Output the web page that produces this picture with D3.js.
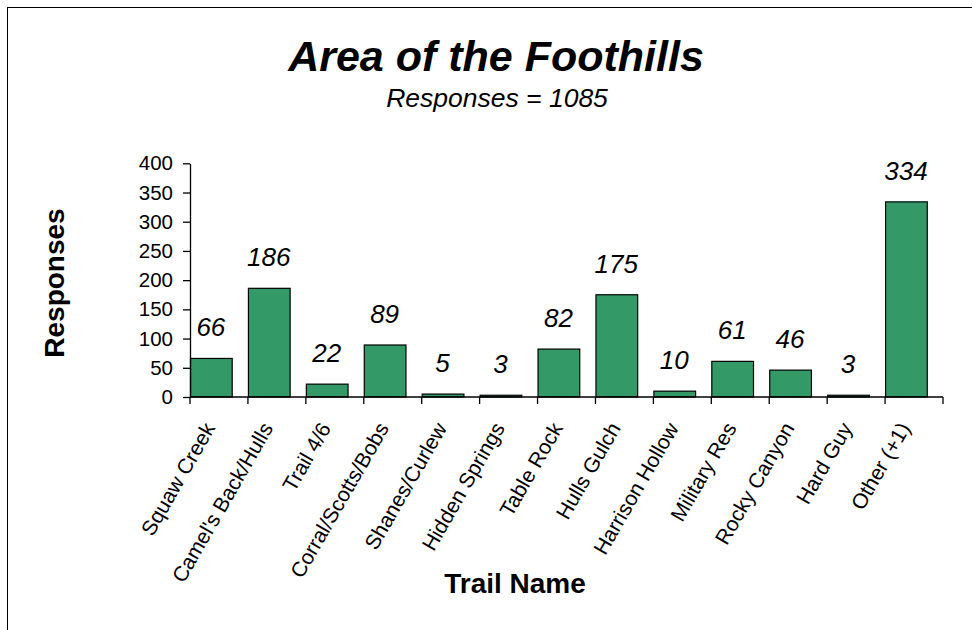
<!DOCTYPE html>
<html>
<head>
<meta charset="utf-8">
<script src="https://cdn.jsdelivr.net/npm/d3@7.9.0/dist/d3.min.js"></script>
<style>
  html, body { margin: 0; padding: 0; background: #fff; }
  svg { display: block; font-family: Arial, "Liberation Sans", sans-serif; }
</style>
</head>
<body>
<svg id="chart" width="972" height="630"></svg>
<script>
// chart data
const trails = ['Squaw Creek', "Camel's Back/Hulls", 'Trail 4/6', 'Corral/Scotts/Bobs',
  'Shanes/Curlew', 'Hidden Springs', 'Table Rock', 'Hulls Gulch', 'Harrison Hollow',
  'Military Res', 'Rocky Canyon', 'Hard Guy', 'Other (+1)'];
const responses = [66, 186, 22, 89, 5, 3, 82, 175, 10, 61, 46, 3, 334];
const yTicks = [0, 50, 100, 150, 200, 250, 300, 350, 400];
const totalResponses = 1085;

const svg = d3.select('#chart');

// outer frame (right/bottom edges fall outside the picture)
svg.append('rect')
  .attr('x', 7.5).attr('y', 7.5)
  .attr('width', 975).attr('height', 640)
  .attr('fill', 'none').attr('stroke', '#000').attr('stroke-width', 1);

const x = d3.scaleBand().domain(trails).range([190, 943]).padding(0);
const y = d3.scaleLinear().domain([0, 400]).range([397, 163.3]);

const rows = trails.map((t, i) => ({ name: t, value: responses[i] }));
const barW = x.bandwidth() * 0.72;

// bars
svg.append('g').selectAll('rect')
  .data(rows)
  .join('rect')
  .attr('x', d => x(d.name) + 0.5)
  .attr('y', d => y(d.value))
  .attr('width', barW)
  .attr('height', d => y(0) - y(d.value))
  .attr('fill', '#339966')
  .attr('stroke', '#000')
  .attr('stroke-width', 1.2);

// value labels
svg.append('g').selectAll('text')
  .data(rows)
  .join('text')
  .attr('x', d => x(d.name) + barW / 2)
  .attr('y', d => y(d.value) - 22)
  .attr('text-anchor', 'middle')
  .attr('font-size', 26)
  .attr('font-style', 'italic')
  .text(d => d.value);

// y axis
const yAxis = svg.append('g')
  .attr('transform', 'translate(190,0)')
  .call(d3.axisLeft(y).tickValues(yTicks).tickSize(7).tickPadding(10).tickSizeOuter(0));
yAxis.select('.domain').attr('stroke-width', 1.3);
yAxis.selectAll('.tick line').attr('stroke-width', 1.3);
yAxis.selectAll('.tick text').attr('font-size', 20.5).attr('fill', '#000')
  .attr('font-family', 'Arial, "Liberation Sans", sans-serif');

// x axis line + ticks at band edges
const xg = svg.append('g');
xg.append('line')
  .attr('x1', 190).attr('x2', 943).attr('y1', 397).attr('y2', 397)
  .attr('stroke', '#000').attr('stroke-width', 1.3);
const edges = trails.map(t => x(t)).concat([x.range()[1]]);
xg.selectAll('line.tk')
  .data(edges)
  .join('line')
  .attr('class', 'tk')
  .attr('x1', d => d).attr('x2', d => d)
  .attr('y1', 397).attr('y2', 404)
  .attr('stroke', '#000').attr('stroke-width', 1.3);

// rotated category labels
xg.selectAll('text')
  .data(trails)
  .join('text')
  .attr('transform', d => `translate(${x(d) + barW / 2 + 5},${428}) rotate(-60)`)
  .attr('text-anchor', 'end')
  .attr('font-size', 21)
  .text(d => d);

// titles
svg.append('text')
  .attr('x', 496).attr('y', 71)
  .attr('text-anchor', 'middle')
  .attr('font-size', 43)
  .attr('font-weight', 'bold')
  .attr('font-style', 'italic')
  .text('Area of the Foothills');

svg.append('text')
  .attr('x', 497).attr('y', 107)
  .attr('text-anchor', 'middle')
  .attr('font-size', 26.5)
  .attr('font-style', 'italic')
  .text('Responses = ' + totalResponses);

svg.append('text')
  .attr('transform', 'translate(64,283) rotate(-90)')
  .attr('text-anchor', 'middle')
  .attr('font-size', 28)
  .attr('font-weight', 'bold')
  .text('Responses');

svg.append('text')
  .attr('x', 515).attr('y', 593)
  .attr('text-anchor', 'middle')
  .attr('font-size', 28)
  .attr('font-weight', 'bold')
  .text('Trail Name');
</script>
</body>
</html>
